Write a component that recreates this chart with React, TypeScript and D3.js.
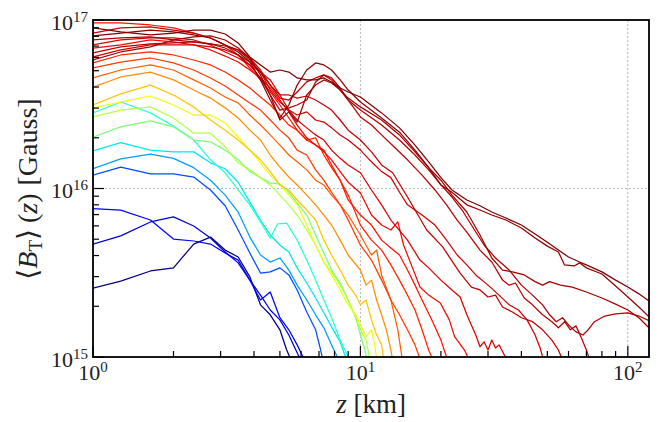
import React from 'react';
import * as d3 from 'd3';

// ---------- data: z [km], <B_T> in units of 1e16 Gauss ----------
const UNIT = 1e16;

const line01 = [[1,0.256],[1.27,0.282],[1.64,0.324],[2.0,0.338],[2.38,0.468],[2.75,0.515],[3.12,0.431],[3.49,0.392],[3.86,0.299],[4.23,0.204],[4.6,0.178],[5.0,0.145],[5.3,0.110],[5.6,0.090]];
const line02 = [[1,0.468],[1.27,0.523],[1.64,0.633],[2.0,0.678],[2.38,0.599],[2.75,0.508],[3.12,0.420],[3.49,0.362],[3.86,0.286],[4.23,0.233],[4.6,0.190],[5.0,0.166],[5.4,0.135],[5.9,0.100],[6.1,0.090]];
const line03 = [[1,0.76],[1.27,0.745],[1.64,0.65],[2.0,0.501],[2.38,0.488],[2.75,0.468],[3.12,0.414],[3.49,0.376],[3.86,0.286],[4.23,0.218],[4.6,0.243],[5.0,0.171],[5.4,0.145],[5.8,0.118],[6.1,0.100],[6.3,0.090]];
const line04 = [[1,1.20],[1.27,1.34],[1.64,1.22],[2.0,1.22],[2.38,1.17],[2.75,0.98],[3.12,0.79],[3.49,0.567],[3.86,0.414],[4.23,0.315],[4.6,0.32],[5.0,0.338],[5.4,0.307],[5.8,0.25],[6.3,0.185],[6.8,0.145],[7.1,0.11],[7.3,0.09]];
const line05 = [[1,1.31],[1.27,1.50],[1.64,1.60],[2.0,1.51],[2.38,1.33],[2.75,1.12],[3.12,0.914],[3.49,0.725],[3.86,0.515],[4.23,0.403],[4.6,0.366],[5.0,0.387],[5.4,0.328],[5.8,0.267],[6.3,0.218],[6.8,0.178],[7.3,0.149],[7.8,0.118],[8.2,0.1],[8.4,0.09]];
const line06 = [[1,1.67],[1.27,1.87],[1.64,1.69],[2.0,1.65],[2.38,1.65],[2.75,1.42],[3.12,1.31],[3.49,1.09],[3.86,0.83],[4.23,0.65],[4.6,0.53],[5.0,0.462],[5.4,0.42],[5.8,0.338],[6.3,0.275],[6.8,0.224],[7.3,0.183],[7.8,0.151],[8.4,0.123],[8.8,0.1],[9.0,0.09]];
const line07 = [[1,2.81],[1.27,3.26],[1.64,2.81],[2.0,2.35],[2.38,1.94],[2.75,1.48],[3.12,1.24],[3.49,0.98],[3.86,0.80],[4.23,0.633],[4.6,0.508],[4.9,0.616],[5.3,0.624],[5.8,0.494],[6.3,0.376],[6.8,0.286],[7.3,0.218],[7.8,0.171],[8.4,0.126],[9.0,0.1],[9.3,0.09]];
const line08 = [[1,2.02],[1.27,2.32],[1.64,2.52],[2.0,2.32],[2.38,1.94],[2.75,1.89],[3.12,1.69],[3.49,1.48],[3.86,1.26],[4.23,1.16],[4.6,1.08],[5.0,1.06],[5.4,0.95],[5.8,0.82],[6.3,0.696],[6.8,0.53],[7.3,0.414],[7.8,0.328],[8.4,0.275],[9.0,0.218],[9.6,0.171],[10,0.135],[10.4,0.11],[10.7,0.09]];
const line09 = [[1,2.66],[1.27,2.92],[1.64,3.05],[2.0,2.62],[2.38,2.13],[2.75,2.13],[3.12,1.77],[3.49,1.42],[3.86,1.29],[4.23,1.16],[4.6,1.05],[5.0,0.914],[5.4,0.80],[5.8,0.696],[6.3,0.567],[6.8,0.462],[7.3,0.366],[7.8,0.32],[8.4,0.267],[9.0,0.218],[9.6,0.171],[10,0.145],[10.5,0.126],[10.8,0.1],[11,0.09]];
const line10 = [[1,3.01],[1.27,3.26],[1.64,3.54],[2.0,3.13],[2.38,2.73],[2.75,2.73],[3.12,2.45],[3.49,2.02],[3.86,1.69],[4.23,1.42],[4.6,1.20],[5.0,1.05],[5.4,0.914],[5.8,0.80],[6.3,0.607],[6.8,0.462],[7.3,0.366],[7.8,0.307],[8.4,0.25],[9.0,0.204],[9.6,0.178],[10,0.155],[10.5,0.132],[11,0.145],[11.3,0.118],[11.6,0.09]];
const line11 = [[1,3.13],[1.27,3.64],[1.64,4.11],[2.0,3.59],[2.38,3.05],[2.75,2.55],[3.12,2.22],[3.49,1.94],[3.86,1.69],[4.23,1.48],[4.6,1.26],[5.0,1.05],[5.4,0.98],[5.8,0.855],[6.3,0.745],[6.8,0.65],[7.3,0.494],[7.8,0.403],[8.4,0.328],[9.0,0.267],[9.6,0.233],[10,0.204],[10.5,0.218],[11,0.166],[11.5,0.135],[12,0.118],[12.3,0.09]];
const line12 = [[1,4.00],[1.27,4.59],[1.64,4.91],[2.0,4.41],[2.38,3.84],[2.75,3.44],[3.12,3.01],[3.49,2.62],[3.86,2.22],[4.23,1.94],[4.6,1.58],[5.0,1.34],[5.4,1.17],[5.8,1.05],[6.3,0.914],[6.8,0.80],[7.3,0.696],[7.8,0.607],[8.4,0.494],[9.0,0.403],[10,0.328],[10.5,0.267],[11,0.286],[11.5,0.218],[12,0.178],[12.5,0.145],[13,0.11],[13.3,0.09]];
const line13 = [[1,4.53],[1.27,5.05],[1.64,5.41],[2.0,5.05],[2.38,4.41],[2.75,3.95],[3.12,3.49],[3.49,3.22],[3.86,2.73],[4.23,2.38],[4.6,2.08],[5.0,1.81],[5.4,1.58],[5.8,1.44],[6.3,1.29],[6.8,1.12],[7.3,1.05],[7.8,0.914],[8.4,0.80],[9.0,0.696],[10,0.53],[11,0.403],[11.5,0.431],[12,0.307],[13,0.218],[13.8,0.145],[14.3,0.1],[14.6,0.09]];
const line14 = [[1,5.19],[1.27,5.63],[1.64,5.95],[2.0,5.56],[2.38,5.05],[2.75,4.53],[3.12,4.06],[3.49,3.59],[3.86,3.22],[4.23,2.92],[4.6,2.55],[5.0,2.22],[5.4,2.00],[5.8,1.69],[6.3,1.58],[6.8,1.29],[7.3,1.12],[7.8,0.95],[8.4,0.80],[9.0,0.65],[10,0.462],[11,0.376],[12,0.286],[13,0.218],[14,0.178],[15,0.145],[16,0.118],[17,0.09]];
const line15 = [[1,5.56],[1.27,6.20],[1.64,6.46],[2.0,6.20],[2.38,5.79],[2.75,5.41],[3.12,4.91],[3.49,4.41],[3.86,3.95],[4.23,3.49],[4.6,3.13],[5.0,2.73],[5.4,2.38],[5.8,2.22],[6.3,1.94],[6.8,2.00],[7.3,1.58],[7.8,1.33],[8.4,1.12],[9.0,0.914],[10,0.607],[11,0.494],[12,0.431],[13,0.352],[14,0.286],[15,0.233],[16,0.19],[17,0.145],[18,0.11],[19,0.09]];
const line16 = [[1,9.60],[1.27,9.60],[1.64,9.34],[2.0,8.97],[2.38,8.37],[2.75,7.82],[3.12,7.11],[3.49,6.20],[3.86,5.19],[4.23,4.41],[4.6,3.74],[5.0,3.13],[5.4,2.62],[5.8,2.22],[6.3,1.94],[6.8,1.81],[7.3,1.69],[7.8,1.38],[8.4,1.12],[9.0,0.855],[10,0.696],[11,0.607],[12,0.494],[13,0.443],[14,0.403],[15,0.328],[16,0.267],[17,0.218],[18.5,0.166],[20,0.126],[21,0.1],[22,0.09]];
const line17 = [[1,6.82],[1.27,7.11],[1.64,7.61],[2.0,7.41],[2.38,7.11],[2.75,6.64],[3.12,6.11],[3.49,5.63],[3.86,5.05],[4.23,4.53],[4.6,3.95],[5.0,3.35],[5.4,2.85],[5.8,2.38],[6.3,2.00],[6.8,1.81],[7.3,1.65],[7.8,1.48],[8.4,1.26],[9.0,1.09],[10,0.94],[11,0.696],[12,0.607],[13,0.567],[13.8,0.633],[14.5,0.462],[15.4,0.362],[16.7,0.26],[18,0.233],[19.9,0.209],[21.5,0.166],[22.5,0.132],[24.5,0.11],[26,0.09]];
const line18 = [[1,7.11],[1.27,7.61],[1.64,7.82],[2.0,7.82],[2.38,7.61],[2.75,7.11],[3.12,6.46],[3.49,5.95],[3.86,5.41],[4.23,4.91],[4.6,4.41],[5.0,3.59],[5.4,2.92],[5.8,2.55],[6.3,2.29],[6.8,2.08],[7.3,1.94],[7.8,1.69],[8.4,1.51],[9.0,1.38],[10,1.24],[11,0.98],[12,0.80],[13,0.65],[15,0.494],[16.7,0.376],[18,0.338],[20,0.286],[22,0.25],[23.6,0.227],[25,0.178],[27,0.135],[28,0.115],[29,0.123],[30,0.11],[31,0.126],[32,0.113],[33,0.118],[34.5,0.103],[36,0.09]];
const line19 = [[1,6.03],[1.27,6.64],[1.64,7.11],[2.0,7.11],[2.38,7.11],[2.75,6.92],[3.12,6.64],[3.49,6.20],[3.86,5.63],[4.23,4.91],[4.6,3.84],[5.0,3.26],[5.4,2.92],[5.8,2.73],[6.3,2.85],[6.8,2.55],[7.3,2.48],[7.8,2.29],[8.4,2.08],[9.0,1.94],[10,1.69],[11,1.44],[12,1.26],[13,1.16],[14,0.95],[15,0.80],[17,0.696],[19,0.607],[21,0.494],[23,0.403],[25,0.352],[27,0.307],[30,0.267],[33,0.233],[36,0.204],[39,0.19],[42,0.166],[45,0.135],[47,0.113],[49,0.09]];
const line20 = [[1,8.37],[1.27,8.97],[1.64,9.09],[2.0,8.72],[2.38,8.37],[2.75,7.82],[3.12,7.11],[3.49,6.64],[3.86,5.95],[4.23,5.05],[4.6,4.11],[5.0,3.59],[5.4,3.59],[5.8,3.44],[6.3,3.54],[6.8,3.35],[7.3,3.13],[7.8,2.92],[8.4,2.55],[9.0,2.22],[10,1.94],[11,1.65],[12,1.38],[13.2,1.24],[15,0.89],[17.7,0.567],[20.3,0.45],[23.6,0.315],[26,0.26],[28,0.25],[30,0.227],[32,0.233],[34,0.198],[37,0.185],[40,0.171],[44,0.162],[48,0.145],[52,0.126],[55,0.11],[58,0.09]];
const line21 = [[1,6.37],[1.27,6.92],[1.64,7.21],[2.0,7.31],[2.38,7.41],[2.75,7.21],[3.12,7.01],[3.49,6.64],[3.86,5.79],[4.23,4.91],[4.6,4.11],[5.0,3.44],[5.4,3.35],[5.8,3.74],[6.3,4.29],[6.8,4.53],[7.3,4.72],[7.8,4.41],[8.4,3.84],[9.0,3.35],[10,2.66],[11,2.38],[12,2.08],[13.5,1.74],[15,1.48],[17,1.20],[19,0.98],[21,0.80],[23,0.65],[25,0.551],[28,0.431],[31,0.366],[34,0.286],[36,0.267],[38,0.275],[41,0.224],[44,0.204],[48,0.178],[52,0.162],[55,0.149],[58,0.162],[61,0.145],[64,0.153],[67,0.13],[70,0.11],[73,0.09]];
const line22 = [[1,7.61],[1.27,7.82],[1.64,7.93],[2.0,7.61],[2.38,7.41],[2.75,7.21],[3.12,6.82],[3.49,6.20],[3.86,5.41],[4.23,4.53],[4.6,3.59],[5.0,2.92],[5.4,3.01],[5.8,3.13],[6.3,3.35],[6.8,4.29],[7.3,4.72],[7.8,4.53],[8.4,3.95],[9.0,3.35],[10,2.92],[12,2.38],[14,1.94],[16,1.58],[18,1.29],[20,1.05],[22,0.89],[24,0.745],[26,0.607],[29,0.462],[32,0.387],[36,0.328],[40,0.267],[44,0.233],[48,0.204],[51,0.178],[54,0.162],[57,0.171],[60,0.155],[64,0.141],[68,0.135],[71,0.145],[75,0.162],[82,0.175],[90,0.18],[100,0.183],[110,0.175],[120,0.164]];
const line23 = [[1,5.79],[1.27,6.46],[1.64,6.92],[2.0,7.61],[2.38,7.93],[2.75,8.04],[3.12,7.61],[3.49,6.82],[3.86,5.95],[4.23,4.72],[4.6,3.59],[5.0,2.55],[5.4,2.85],[5.8,2.48],[6.3,3.59],[6.8,4.11],[7.3,4.41],[7.8,4.23],[8.4,3.84],[9.0,3.44],[10,3.05],[12,2.55],[14,2.08],[16,1.65],[18,1.33],[20,1.12],[22,0.914],[25,0.725],[28,0.53],[31,0.387],[34,0.328],[37,0.32],[41,0.307],[45,0.28],[48,0.267],[51,0.28],[56,0.267],[62,0.26],[70,0.243],[80,0.224],[90,0.206],[100,0.19],[110,0.171],[120,0.149]];
const line24 = [[1,8.04],[1.27,8.37],[1.64,8.72],[2.0,8.49],[2.38,8.15],[2.75,7.82],[3.12,7.11],[3.49,6.46],[3.86,5.63],[4.23,4.41],[4.6,3.35],[5.0,2.62],[5.4,3.13],[5.8,4.11],[6.3,5.05],[6.8,5.56],[7.3,5.41],[7.8,5.05],[8.4,4.41],[9.0,3.84],[10,3.26],[12,2.62],[14,2.16],[16,1.69],[18,1.33],[20,1.05],[22,0.95],[25,0.80],[28,0.745],[31,0.696],[35,0.65],[40,0.583],[45,0.508],[50,0.455],[55,0.42],[58,0.352],[63,0.347],[66,0.362],[70,0.338],[80,0.311],[90,0.264],[100,0.227],[110,0.198],[120,0.173]];
const line25 = [[1,8.97],[1.27,8.49],[1.64,8.15],[2.0,8.37],[2.38,8.72],[2.75,8.72],[3.12,8.26],[3.49,7.31],[3.86,6.03],[4.23,5.41],[4.6,4.91],[5.0,5.05],[5.4,4.91],[5.8,4.53],[6.3,4.41],[6.8,4.41],[7.3,4.53],[7.8,4.29],[8.4,3.95],[9.0,3.74],[10,3.49],[12,2.81],[14,2.29],[16,1.81],[18,1.44],[20,1.16],[22,0.98],[25,0.855],[28,0.79],[31,0.725],[35,0.668],[40,0.607],[45,0.537],[50,0.48],[55,0.431],[60,0.392],[66,0.366],[70,0.352],[80,0.32],[90,0.286],[100,0.26],[110,0.237],[120,0.215]];

const seriesList = [line01, line02, line03, line04, line05, line06, line07, line08, line09, line10, line11, line12, line13, line14, line15, line16, line17, line18, line19, line20, line21, line22, line23, line24, line25];
// colormap position of each series (jet)
const colorValues = [0.0, 0.08, 0.13, 0.2, 0.28, 0.35, 0.4, 0.5, 0.57, 0.64, 0.7, 0.76, 0.81, 0.85, 0.87, 0.89, 0.9, 0.92, 0.93, 0.94, 0.95, 0.96, 0.97, 0.985, 1.0];

const xMajorTicks = [1, 10, 100];
const yMajorTicks = [1e15, 1e16, 1e17];
const xTickExps = ['0', '1', '2'];
const yTickExps = ['15', '16', '17'];

// ---------- jet colormap ----------
const jetR = [[0, 0], [0.35, 0], [0.66, 1], [0.89, 1], [1, 0.5]];
const jetG = [[0, 0], [0.125, 0], [0.375, 1], [0.64, 1], [0.91, 0], [1, 0]];
const jetB = [[0, 0.5], [0.11, 1], [0.34, 1], [0.65, 0], [1, 0]];
function seg(pts: number[][], t: number) {
  for (let i = 1; i < pts.length; i++) {
    if (t <= pts[i][0]) {
      const [x0, y0] = pts[i - 1];
      const [x1, y1] = pts[i];
      return y0 + ((t - x0) / (x1 - x0)) * (y1 - y0);
    }
  }
  return pts[pts.length - 1][1];
}
function jet(t: number) {
  const r = Math.round(seg(jetR, t) * 255);
  const g = Math.round(seg(jetG, t) * 255);
  const b = Math.round(seg(jetB, t) * 255);
  return `rgb(${r},${g},${b})`;
}

const W = 661, H = 422;
const L = 93, R = 649, T = 20, B = 357;
const FONT = "'Liberation Serif', 'DejaVu Serif', serif";

export default function App() {
  const x = d3.scaleLog().domain([1, 120]).range([L, R]);
  const y = d3.scaleLog().domain([1e15, 1e17]).range([B, T]);
  const line = d3.line<number[]>().x(d => x(d[0])).y(d => y(d[1] * UNIT));

  const xMinor: number[] = [];
  for (const dec of xMajorTicks) for (let m = 2; m <= 9; m++) { const v = dec * m; if (v <= 120) xMinor.push(v); }
  const yMinor: number[] = [];
  for (const dec of [1e15, 1e16]) for (let m = 2; m <= 9; m++) yMinor.push(dec * m);

  return (
    <svg width={W} height={H} style={{ position: 'absolute', left: 0, top: 0, background: '#fff' }} fontFamily={FONT}>
      <defs>
        <clipPath id="plot"><rect x={L} y={T} width={R - L} height={B - T} /></clipPath>
      </defs>
      <rect x={0} y={0} width={W} height={H} fill="#fff" />
      {/* grid */}
      <g stroke="#b8b8b8" strokeWidth={1} strokeDasharray="2,2">
        {xMajorTicks.filter(v => v > 1).map(v => (
          <line key={'gx' + v} x1={x(v)} x2={x(v)} y1={T} y2={B} />
        ))}
        {yMajorTicks.filter(v => v > 1e15 && v < 1e17).map(v => (
          <line key={'gy' + v} x1={L} x2={R} y1={y(v)} y2={y(v)} />
        ))}
      </g>
      {/* series */}
      <g clipPath="url(#plot)" fill="none" strokeWidth={1.25} strokeLinejoin="round">
        {seriesList.map((s, i) => (
          <path key={i} d={line(s) || ''} stroke={jet(colorValues[i])} />
        ))}
      </g>
      {/* ticks */}
      <g stroke="#000" strokeWidth={1.2}>
        {xMajorTicks.map(v => <line key={'xt' + v} x1={x(v)} x2={x(v)} y1={B} y2={B - 11} />)}
        {xMinor.map(v => <line key={'xm' + v} x1={x(v)} x2={x(v)} y1={B} y2={B - 6} />)}
        {yMajorTicks.map(v => <line key={'yt' + v} x1={L} x2={L + 11} y1={y(v)} y2={y(v)} />)}
        {yMinor.map(v => <line key={'ym' + v} x1={L} x2={L + 6} y1={y(v)} y2={y(v)} />)}
      </g>
      {/* spines */}
      <rect x={L} y={T} width={R - L} height={B - T} fill="none" stroke="#000" strokeWidth={1.8} />
      {/* tick labels */}
      <g fill="#222" fontSize={22}>
        {xMajorTicks.map((v, i) => (
          <text key={'xl' + v} x={x(v)} y={B + 23} textAnchor="middle">
            <tspan>10</tspan><tspan fontSize={15} dy={-8}>{xTickExps[i]}</tspan>
          </text>
        ))}
        {yMajorTicks.map((v, i) => (
          <text key={'yl' + v} x={L - 5} y={y(v) + 9.5} textAnchor="end">
            <tspan>10</tspan><tspan fontSize={15} dy={-8}>{yTickExps[i]}</tspan>
          </text>
        ))}
      </g>
      {/* axis labels */}
      <text x={(L + R) / 2} y={413} textAnchor="middle" fontSize={27} fill="#222">
        <tspan fontStyle="italic">z</tspan><tspan> [km]</tspan>
      </text>
      <text transform={`translate(37,189) rotate(-90)`} textAnchor="middle" fontSize={28} fill="#222">
        <tspan>⟨</tspan><tspan fontStyle="italic">B</tspan><tspan fontSize={19} dy={5}>T</tspan><tspan dy={-5}>⟩</tspan><tspan dx={6}>(</tspan><tspan fontStyle="italic">z</tspan><tspan>)</tspan><tspan dx={8}>[Gauss]</tspan>
      </text>
    </svg>
  );
}
